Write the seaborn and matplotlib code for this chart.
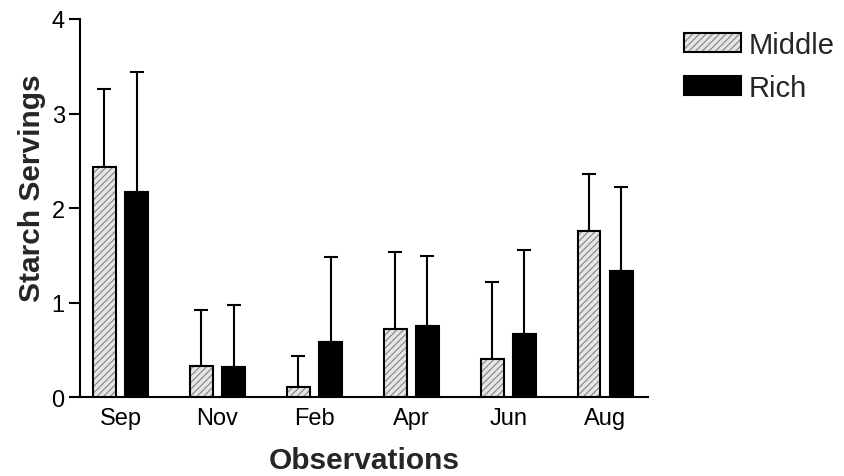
import numpy as np
import pandas as pd
import matplotlib
matplotlib.use("Agg")
import matplotlib.pyplot as plt
from matplotlib.patches import Rectangle, Patch
from matplotlib.legend_handler import HandlerTuple
import seaborn as sns

# ---- data ----
months = ["Sep", "Nov", "Feb", "Apr", "Jun", "Aug"]
groups = ["Middle", "Rich"]
middle_mean = [2.44, 0.33, 0.11, 0.72, 0.40, 1.76]
middle_upper = [3.26, 0.92, 0.44, 1.54, 1.22, 2.36]
rich_mean = [2.17, 0.32, 0.59, 0.75, 0.67, 1.34]
rich_upper = [3.44, 0.98, 1.48, 1.49, 1.56, 2.22]
y_ticks = [0, 1, 2, 3, 4]

df = pd.DataFrame({
    "Month": months * 2,
    "Group": [groups[0]] * len(months) + [groups[1]] * len(months),
    "Servings": middle_mean + rich_mean,
})

sns.set_theme(style="white")
plt.rcParams["font.family"] = ["Liberation Sans", "DejaVu Sans"]
plt.rcParams["hatch.linewidth"] = 0.9

fig = plt.figure(figsize=(8.45, 4.77), dpi=100)
ax = fig.add_axes([80 / 845, 1 - 398.3 / 477, (648 - 80) / 845, (398.3 - 20) / 477])

mid_face = "#e6e6e6"
hatch_col = "#8c8c8c"
sns.barplot(data=df, x="Month", y="Servings", hue="Group", order=months,
            hue_order=groups, palette={"Middle": mid_face, "Rich": "black"},
            width=0.665, gap=0.3, edgecolor="black", linewidth=1.5,
            errorbar=None, legend=False, ax=ax, zorder=3)

uppers = [middle_upper, rich_upper]
for ci, cont in enumerate(ax.containers[:2]):
    xs, ys = [], []
    for p in cont.patches:
        xs.append(p.get_x() + p.get_width() / 2)
        ys.append(p.get_height())
        if ci == 0:
            p.set_hatch("/////")
            p.set_edgecolor(hatch_col)
            p.set_linewidth(0)
            ax.add_patch(Rectangle(p.get_xy(), p.get_width(), p.get_height(),
                                   fill=False, edgecolor="black", linewidth=1.5,
                                   zorder=4))
    xs = np.array(xs)
    ys = np.array(ys)
    up = np.array(uppers[ci]) - ys
    ax.errorbar(xs, ys, yerr=[np.zeros_like(up), up], fmt="none",
                ecolor="black", elinewidth=1.5, capsize=4.7, capthick=1.5,
                zorder=2)

ax.set_xlim(-0.417, 5.44)
ax.set_ylim(0, 4)
ax.set_yticks(y_ticks)
ax.set_yticklabels([str(t) for t in y_ticks])

for s in ["top", "right"]:
    ax.spines[s].set_visible(False)
for s in ["left", "bottom"]:
    ax.spines[s].set_color("black")
    ax.spines[s].set_linewidth(1.5)

ax.tick_params(axis="y", direction="out", length=8, width=1.5, pad=3,
               labelsize=17, colors="black", left=True)
ax.tick_params(axis="x", length=0, pad=7, labelsize=17, colors="black")

ax.set_xlabel("Observations", fontsize=21.5, fontweight="bold", labelpad=12.5)
ax.set_ylabel("Starch Servings", fontsize=21.5, fontweight="bold")
ax.yaxis.set_label_coords(-0.06, 0.555)

h_mid = (Patch(facecolor=mid_face, edgecolor=hatch_col, hatch="/////", linewidth=0),
         Patch(facecolor="none", edgecolor="black", linewidth=1.5))
h_rich = Patch(facecolor="black", edgecolor="black", linewidth=1.5)
leg = fig.legend([h_mid, h_rich], groups, loc="upper left",
                 handler_map={tuple: HandlerTuple(ndivide=1)},
                 bbox_to_anchor=(684 / 845, 1 - 32 / 477), frameon=False,
                 fontsize=21, handlelength=1.95, handleheight=0.62,
                 handletextpad=0.25, labelspacing=0.52, borderpad=0,
                 borderaxespad=0)
fig.savefig("out.png", dpi=100)
